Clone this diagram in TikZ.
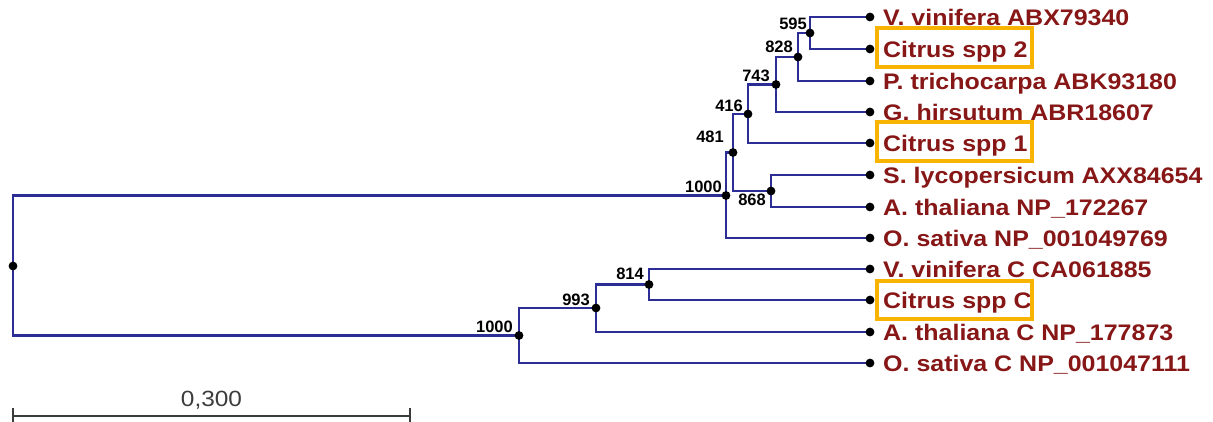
\documentclass[tikz,border=0pt]{standalone}
\usepackage{fontspec}
\setmainfont{Liberation Sans}
\newfontfamily\labfont[FakeStretch=1.11]{Liberation Sans}
\newfontfamily\numfont{Liberation Sans}
\definecolor{branchblue}{RGB}{45,45,150}
\definecolor{leafred}{RGB}{135,22,22}
\definecolor{citorange}{RGB}{248,180,0}
\definecolor{scalegray}{RGB}{60,60,60}
\begin{document}
\begin{tikzpicture}[x=1pt,y=-1pt,
  branch/.style={draw=branchblue, line width=2.4pt},
  tipdot/.style={fill=black},
  leaflab/.style={anchor=base west, inner sep=0pt, text=leafred, font=\labfont\bfseries\fontsize{22.5}{26}\selectfont},
  bootlab/.style={inner sep=0pt, font=\numfont\bfseries\fontsize{16.5}{19}\selectfont},
  citbox/.style={draw=citorange, line width=3.2pt},
  scalebar/.style={draw=scalegray, line width=2.8pt},
  scalelab/.style={anchor=base, inner sep=0pt, text=scalegray, font=\labfont\fontsize{22}{26}\selectfont}]
\useasboundingbox (0,0) rectangle (1213,421);
% leaves
\coordinate (L1) at (870,17);
\coordinate (L2) at (870,49);
\coordinate (L3) at (870,81);
\coordinate (L4) at (870,112);
\coordinate (L5) at (870,143);
\coordinate (L6) at (870,175);
\coordinate (L7) at (870,207);
\coordinate (L8) at (870,238);
\coordinate (L9) at (870,269);
\coordinate (L10) at (870,300);
\coordinate (L11) at (870,332);
\coordinate (L12) at (870,363);
% internal nodes
\coordinate (n595) at (810,33);
\coordinate (n828) at (798,57);
\coordinate (n743) at (776,84.5);
\coordinate (n416) at (748,114);
\coordinate (n868) at (771,191);
\coordinate (n481) at (733,152.5);
\coordinate (nT) at (726,195.5);
\coordinate (n814) at (649,284.5);
\coordinate (n993) at (596,308);
\coordinate (nB) at (519,335.5);
\coordinate (root) at (13,266);
% branches
\draw[branch] (root) |- (nT);
\draw[branch] (root) |- (nB);
\draw[branch] (nT) |- (n481);
\draw[branch] (nT) |- (L8);
\draw[branch] (n481) |- (n416);
\draw[branch] (n481) |- (n868);
\draw[branch] (n416) |- (n743);
\draw[branch] (n416) |- (L5);
\draw[branch] (n743) |- (n828);
\draw[branch] (n743) |- (L4);
\draw[branch] (n828) |- (n595);
\draw[branch] (n828) |- (L3);
\draw[branch] (n595) |- (L1);
\draw[branch] (n595) |- (L2);
\draw[branch] (n868) |- (L6);
\draw[branch] (n868) |- (L7);
\draw[branch] (nB) |- (n993);
\draw[branch] (nB) |- (L12);
\draw[branch] (n993) |- (n814);
\draw[branch] (n993) |- (L11);
\draw[branch] (n814) |- (L9);
\draw[branch] (n814) |- (L10);
% dots
\foreach \p in {L1,L2,L3,L4,L5,L6,L7,L8,L9,L10,L11,L12,n595,n828,n743,n416,n868,n481,nT,n814,n993,nB,root}
  \fill[tipdot] (\p) circle[radius=4.4pt];
% bootstrap labels
\node[bootlab, anchor=south east] (b595) at ([shift={(-3,-3)}]n595) {595};
\node[bootlab, anchor=south east] (b828) at ([shift={(-5,-4)}]n828) {828};
\node[bootlab, anchor=south east] (b743) at ([shift={(-6,-3)}]n743) {743};
\node[bootlab, anchor=south east] (b416) at ([shift={(-5,-2)}]n416) {416};
\node[bootlab, anchor=south east] (b481) at ([shift={(-9,-10)}]n481) {481};
\node[bootlab, anchor=south east] (bT) at ([shift={(-4,-3)}]nT) {1000};
\node[bootlab, anchor=north east] (b868) at ([shift={(-5,3)}]n868) {868};
\node[bootlab, anchor=south east] (b814) at ([shift={(-5,-5)}]n814) {814};
\node[bootlab, anchor=south east] (b993) at ([shift={(-6,-2)}]n993) {993};
\node[bootlab, anchor=south east] (bB) at ([shift={(-6,-3)}]nB) {1000};
% leaf labels
\node[leaflab] (t1) at ([shift={(13,8)}]L1) {V. vinifera ABX79340};
\node[leaflab] (t2) at ([shift={(13,8)}]L2) {Citrus spp 2};
\node[leaflab] (t3) at ([shift={(13,8)}]L3) {P. trichocarpa ABK93180};
\node[leaflab] (t4) at ([shift={(13,8)}]L4) {G. hirsutum ABR18607};
\node[leaflab] (t5) at ([shift={(13,8)}]L5) {Citrus spp 1};
\node[leaflab] (t6) at ([shift={(13,8)}]L6) {S. lycopersicum AXX84654};
\node[leaflab] (t7) at ([shift={(13,8)}]L7) {A. thaliana NP\_172267};
\node[leaflab] (t8) at ([shift={(13,8)}]L8) {O. sativa NP\_001049769};
\node[leaflab] (t9) at ([shift={(13,8)}]L9) {V. vinifera C CA061885};
\node[leaflab] (t10) at ([shift={(13,8)}]L10) {Citrus spp C};
\node[leaflab] (t11) at ([shift={(13,8)}]L11) {A. thaliana C NP\_177873};
\node[leaflab] (t12) at ([shift={(13,8)}]L12) {O. sativa C NP\_001047111};
% highlight boxes
\draw[citbox] ([shift={(7,-21)}]L2) rectangle ([shift={(162,18)}]L2);
\draw[citbox] ([shift={(7,-21)}]L5) rectangle ([shift={(162,18)}]L5);
\draw[citbox] ([shift={(7,-19)}]L10) rectangle ([shift={(162,19)}]L10);
% scale bar
\coordinate (sbL) at (13,416);
\coordinate (sbR) at (410,416);
\draw[scalebar] (sbL) -- (sbR);
\draw[scalebar] ([yshift=-8]sbL) -- ([yshift=8]sbL);
\draw[scalebar] ([yshift=-8]sbR) -- ([yshift=8]sbR);
\node[scalelab] (sbt) at (211.5,406) {0,300};
\end{tikzpicture}
\end{document}
